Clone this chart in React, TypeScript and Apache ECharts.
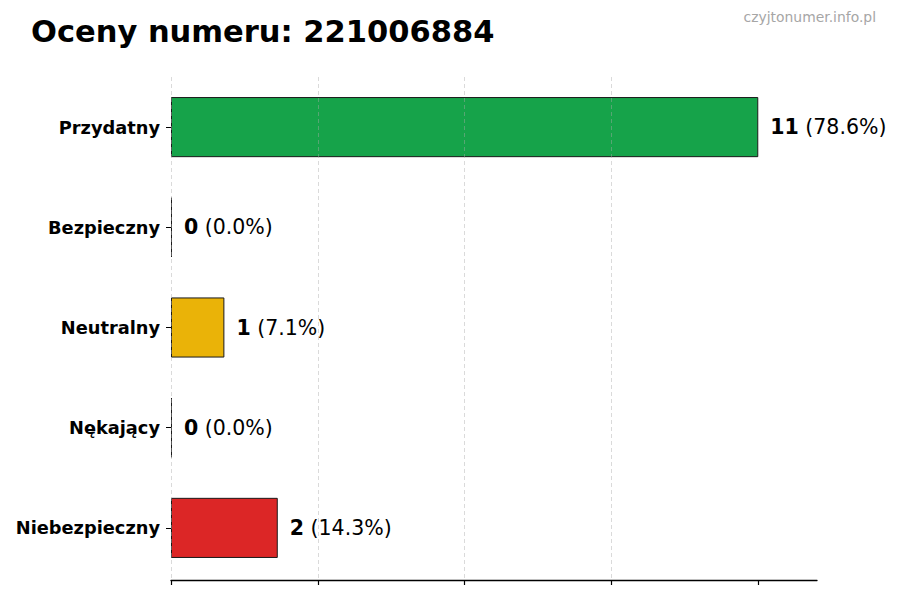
import React, { useRef, useEffect } from 'react';
import * as echarts from 'echarts';

const FONT = 'DejaVu Sans, sans-serif';

// ─── Data ────────────────────────────────────────────────────────────────────
const CATEGORIES = ['Przydatny', 'Bezpieczny', 'Neutralny', 'Nękający', 'Niebezpieczny'];
const COUNTS = [11, 0, 1, 0, 2];
const COLORS = ['#16a34a', '#2563eb', '#eab308', '#ea580c', '#dc2626'];
const TITLE = 'Oceny numeru: 221006884';
const WATERMARK = 'czyjtonumer.info.pl';

const TOTAL = COUNTS.reduce((a, b) => a + b, 0);
const X_MAX = Math.max(...COUNTS) * 1.1;
const X_STEP = Math.max(...COUNTS) / 4;
const X_TICKS = [0, 1, 2, 3, 4].map(i => i * X_STEP);

function getOption(): echarts.EChartsCoreOption {
  return {
    animation: false,
    backgroundColor: '#FFFFFF',
    title: [
      {
        text: TITLE,
        left: 31,
        top: 16,
        padding: 0,
        textStyle: { fontFamily: FONT, fontSize: 30.5, fontWeight: 'bold', color: '#000' },
      },
      {
        text: WATERMARK,
        right: 24,
        top: 10,
        padding: 0,
        textStyle: { fontFamily: FONT, fontSize: 13.9, fontWeight: 'normal', color: '#a6a6a6' },
      },
    ],
    grid: { left: 171, right: 83, top: 77, bottom: 22, containLabel: false },
    xAxis: {
      type: 'value',
      min: 0,
      max: X_MAX,
      interval: X_STEP,
      offset: 2,
      z: 5,
      axisLine: { show: true, onZero: false, lineStyle: { color: '#000', width: 1.3 } },
      axisTick: {
        show: true,
        length: 5,
        customValues: X_TICKS,
        lineStyle: { color: '#000', width: 1.2 },
      },
      axisLabel: { show: false },
      splitLine: {
        show: true,
        showMaxLine: false,
        lineStyle: { color: 'rgba(170,170,170,0.55)', width: 0.8, type: [4, 3] },
      },
    },
    yAxis: {
      type: 'category',
      data: CATEGORIES,
      inverse: true,
      axisLine: { show: false },
      axisTick: { show: true, length: 5, alignWithLabel: true, lineStyle: { color: '#000', width: 1 } },
      axisLabel: {
        margin: 11,
        fontFamily: FONT,
        fontSize: 17.8,
        fontWeight: 'bold',
        color: '#000',
      },
      splitLine: { show: false },
    },
    series: [
      {
        type: 'bar',
        barWidth: '60%',
        barMinHeight: 1,
        data: COUNTS.map((v, i) => ({
          value: v,
          itemStyle: { color: COLORS[i], borderColor: '#1a1a1a', borderWidth: 1 },
        })),
        label: {
          show: true,
          position: 'right',
          distance: 12,
          formatter: (p: any) =>
            `{b|${p.value}}{n|\u00a0(${((p.value / TOTAL) * 100).toFixed(1)}%)}`,
          rich: {
            b: { fontFamily: FONT, fontSize: 20.5, fontWeight: 'bold', color: '#000' },
            n: { fontFamily: FONT, fontSize: 20.5, fontWeight: 'normal', color: '#000' },
          },
        },
      },
    ],
  };
}

export default function App() {
  const ref = useRef<HTMLDivElement>(null);

  useEffect(() => {
    if (!ref.current) return;
    const chart = echarts.init(ref.current, undefined, { renderer: 'svg' });
    chart.setOption(getOption());
    return () => chart.dispose();
  }, []);

  return (
    <div
      ref={ref}
      style={{ position: 'fixed', left: 0, top: 0, width: 900, height: 600, background: '#fff' }}
    />
  );
}
